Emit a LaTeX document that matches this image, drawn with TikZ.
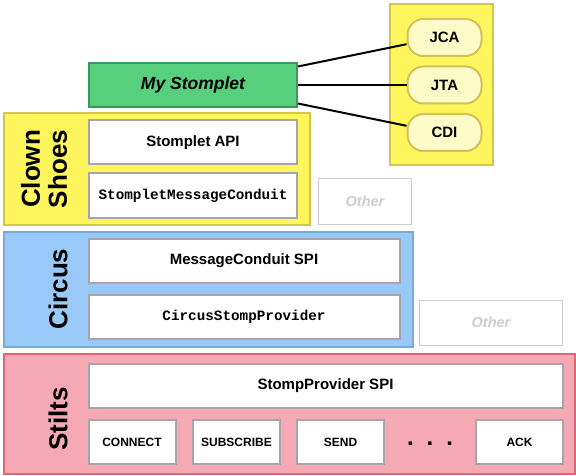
\documentclass[tikz,border=0pt]{standalone}
\usepackage{fontspec}
\setmainfont{Liberation Sans}
\setmonofont{Liberation Mono}

\definecolor{shoefill}{HTML}{FFF55C}
\definecolor{shoeline}{HTML}{D2C64C}
\definecolor{pillfill}{HTML}{FFFBC8}
\definecolor{pillline}{HTML}{CFC35A}
\definecolor{letfill}{HTML}{58CF7C}
\definecolor{letline}{HTML}{3C9A58}
\definecolor{circusfill}{HTML}{99C9F9}
\definecolor{circusline}{HTML}{7BAAD9}
\definecolor{stiltsfill}{HTML}{F4A9B4}
\definecolor{stiltsline}{HTML}{E0647A}
\definecolor{partline}{HTML}{A6A6A6}
\definecolor{otherline}{HTML}{CCCCCC}

\begin{document}
\begin{tikzpicture}[x=1pt, y=-1pt,
    layer/.style={line width=2pt, inner sep=0pt},
    layername/.style={rotate=90, align=center, font=\fontsize{26}{27}\selectfont\bfseries},
    part/.style={draw=partline, fill=white, line width=2pt, inner sep=0pt,
        minimum width=208pt, minimum height=44pt, font=\fontsize{15}{18}\selectfont\bfseries},
    mono/.style={font=\fontsize{14.3}{17}\selectfont\ttfamily\bfseries},
    verb/.style={part, minimum width=87pt, font=\fontsize{12}{14}\selectfont\bfseries},
    pill/.style={draw=pillline, fill=pillfill, line width=2pt, rounded corners=16pt,
        minimum width=74pt, minimum height=37pt, font=\fontsize{15}{18}\selectfont\bfseries},
    other/.style={draw=otherline, line width=1pt, text=otherline, minimum height=45pt,
        font=\fontsize{14.5}{17}\selectfont\bfseries\itshape}]
    \useasboundingbox (0,0) rectangle (576,476);
    % layers
    \node[layer, draw=shoeline, fill=shoefill, minimum width=306pt, minimum height=111pt] (shoes) at (156.5,169) {};
    \node[layer, draw=circusline, fill=circusfill, minimum width=409pt, minimum height=115pt] (circus) at (208,289) {};
    \node[layer, draw=stiltsline, fill=stiltsfill, minimum width=571pt, minimum height=120pt] (stilts) at (289,413.5) {};
    \node[layername] (shoesname) at (44,169) {Clown\\Shoes};
    \node[layername] (circusname) at (58,289) {Circus};
    \node[layername] (stiltsname) at (58,419) {Stilts};
    % Clown Shoes
    \node[part, draw=letline, fill=letfill, font=\fontsize{17.5}{20}\selectfont\bfseries\itshape] (stomplet) at (193,85) {My Stomplet};
    \node[part] (api) at (193,142.5) {Stomplet API};
    \node[part, mono] (conduit) at (193,195.5) {StompletMessageConduit};
    \node[other, minimum width=93pt] (other1) at (365,201.5) {Other};
    % Circus
    \node[part, minimum width=311pt] (spi) at (244,260.5) {MessageConduit SPI};
    \node[part, mono, minimum width=311pt] (provider) at (244,316.5) {CircusStompProvider};
    \node[other, minimum width=143pt] (other2) at (491,322.5) {Other};
    % Stilts
    \node[part, minimum width=474pt] (stompspi) at (325.5,385.5) {StompProvider SPI};
    \node[verb] (connect) at (132,442) {CONNECT};
    \node[verb] (subscribe) at (236.5,442) {SUBSCRIBE};
    \node[verb] (send) at (340.5,442) {SEND};
    \node[font=\fontsize{24}{24}\selectfont\bfseries] (dots) at (430,444) {.\hskip 13pt.\hskip 13pt.};
    \node[verb] (ack) at (519.5,442) {ACK};
    % services
    \node[layer, draw=shoeline, fill=shoefill, minimum width=103pt, minimum height=161pt] (services) at (441,85) {};
    \node[pill] (jca) at (444.5,37.5) {JCA};
    \node[pill] (jta) at (444.5,85) {JTA};
    \node[pill] (cdi) at (444.5,132.5) {CDI};
    \draw[line width=2pt] (stomplet.10.8) -- (jca.190);
    \draw[line width=2pt] (stomplet.east) -- (jta.west);
    \draw[line width=2pt] (stomplet.-10.8) -- (cdi.170);
\end{tikzpicture}
\end{document}
